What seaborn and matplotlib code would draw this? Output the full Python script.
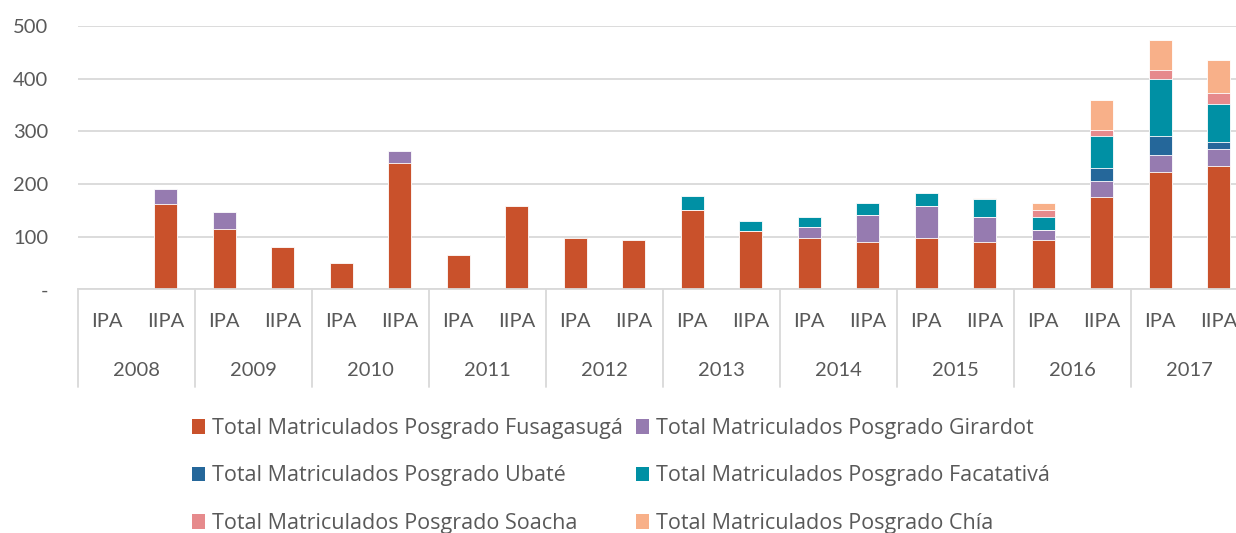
import matplotlib
matplotlib.use("Agg")
import matplotlib.pyplot as plt
import matplotlib.transforms as mtransforms
from matplotlib.patches import Patch
import numpy as np
import seaborn as sns

# Values (enrolled postgraduate students per term)
years = ["2008", "2009", "2010", "2011", "2012", "2013", "2014", "2015", "2016", "2017"]
periods = ["IPA", "IIPA"]
fusagasuga = [0, 162, 114, 81, 49, 239, 65, 158, 98, 94, 150, 110, 98, 90, 98, 90, 94, 175, 223, 235]
girardot = [0, 28, 33, 0, 0, 24, 0, 0, 0, 0, 0, 0, 20, 52, 60, 48, 19, 31, 32, 32]
ubate = [0, 0, 0, 0, 0, 0, 0, 0, 0, 0, 0, 0, 0, 0, 0, 0, 0, 25, 36, 12]
facatativa = [0, 0, 0, 0, 0, 0, 0, 0, 0, 0, 28, 20, 20, 21, 25, 33, 25, 60, 109, 73]
soacha = [0, 0, 0, 0, 0, 0, 0, 0, 0, 0, 0, 0, 0, 0, 0, 0, 12, 12, 17, 20]
chia = [0, 0, 0, 0, 0, 0, 0, 0, 0, 0, 0, 0, 0, 0, 0, 3, 13, 57, 56, 64]

series_names = [
    "Total Matriculados Posgrado Fusagasugá",
    "Total Matriculados Posgrado Girardot",
    "Total Matriculados Posgrado Ubaté",
    "Total Matriculados Posgrado Facatativá",
    "Total Matriculados Posgrado Soacha",
    "Total Matriculados Posgrado Chía",
]
colors = ["#C9512B", "#967BB0", "#25679A", "#0090A4", "#E68A8C", "#F8B089"]

TEXT = "#595959"
GRID = "#d9d9d9"

sns.set_theme(style="white")
plt.rcParams["font.family"] = ["Lato", "DejaVu Sans"]

slots = [f"{y} {p}" for y in years for p in periods]
values = np.array([fusagasuga, girardot, ubate, facatativa, soacha, chia])
stack = np.cumsum(values, axis=0)

W, H = 1236, 533
fig = plt.figure(figsize=(W / 100, H / 100), dpi=100)
ax = fig.add_axes([78 / W, (H - 289.3) / H, 1170 / W, 263.3 / H])

# stacked bars: draw cumulative totals from the top series down
for i in reversed(range(len(series_names))):
    sns.barplot(x=slots, y=stack[i], order=slots, color=colors[i], width=0.4,
                saturation=1, edgecolor="white", linewidth=0.6, ax=ax)

ax.set_xlim(-0.5, len(slots) - 0.5)
ax.set_ylim(0, 500)
ax.set_yticks(range(0, 501, 100))
ax.set_yticklabels(["-"] + [str(v) for v in range(100, 501, 100)])
ax.tick_params(axis="y", length=0, pad=21.5, labelsize=14.5, labelcolor=TEXT)
ax.set_xticks([])
ax.set_xlabel("")
ax.set_ylabel("")
ax.yaxis.grid(True, color=GRID, linewidth=1.3)
ax.set_axisbelow(True)
for s in ["top", "right", "left"]:
    ax.spines[s].set_visible(False)
ax.spines["bottom"].set_color(GRID)
ax.spines["bottom"].set_linewidth(1.3)

# two-level category axis
trans = mtransforms.blended_transform_factory(ax.transData, ax.transAxes)
axh = 263.3
for k, lab in enumerate(slots):
    ax.text(k, -32 / axh, lab.split()[1], transform=trans, ha="center", va="center",
            fontsize=14.5, color=TEXT)
for j, y in enumerate(years):
    ax.text(2 * j + 0.5, -81 / axh, y, transform=trans, ha="center", va="center",
            fontsize=14.5, color=TEXT)
for j in range(len(years) + 1):
    ax.plot([2 * j - 0.5, 2 * j - 0.5], [0, -98 / axh], transform=trans,
            color=GRID, linewidth=1.3, clip_on=False)

# legend laid out row by row like the original
order = [0, 2, 4, 1, 3, 5]
handles = [Patch(facecolor=colors[i], edgecolor="none", label=series_names[i]) for i in order]
fig.legend(handles=handles, ncol=2, loc="upper left",
           bbox_to_anchor=(192 / W, (H - 418) / H), frameon=False,
           prop={"family": ["Open Sans", "DejaVu Sans"], "size": 15.5},
           labelcolor=TEXT, handlelength=0.6, handleheight=0.65,
           handletextpad=0.33, columnspacing=0.6, labelspacing=1.23,
           borderpad=0, borderaxespad=0)

fig.savefig("out.png", dpi=100, facecolor="white")
